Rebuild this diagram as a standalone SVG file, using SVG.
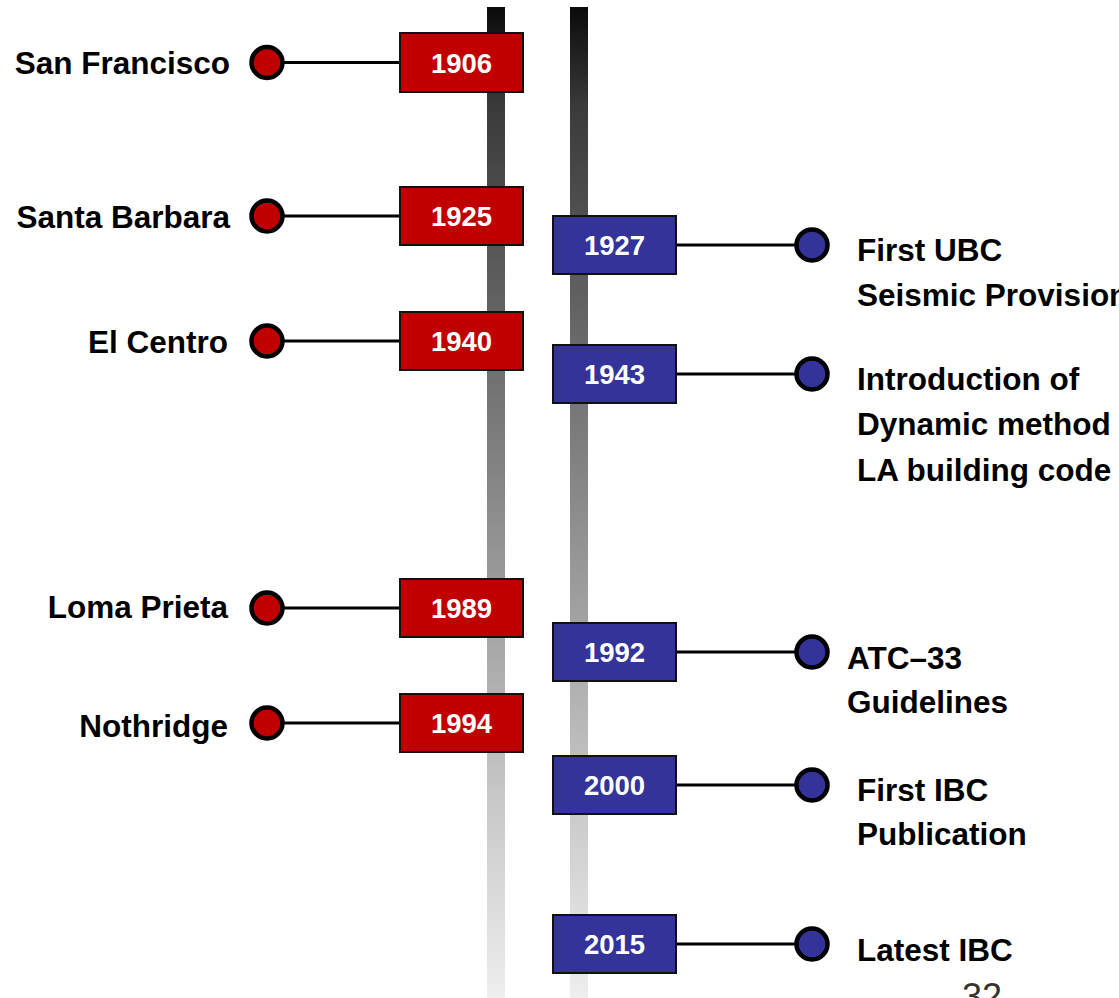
<svg xmlns="http://www.w3.org/2000/svg" width="1119" height="998" viewBox="0 0 1119 998">
  <defs>
    <linearGradient id="barGrad" x1="0" y1="7" x2="0" y2="998" gradientUnits="userSpaceOnUse">
      <stop offset="0" stop-color="#0a0a0a"/>
      <stop offset="0.1" stop-color="#3a3a3a"/>
      <stop offset="0.45" stop-color="#808080"/>
      <stop offset="0.8" stop-color="#c8c8c8"/>
      <stop offset="1" stop-color="#eeeeee"/>
    </linearGradient>
  </defs>
  <style>
    .bar { fill: url(#barGrad); }
    .conn { stroke: #000; stroke-width: 3; fill: none; }
    .redbox { fill: #C00000; stroke: #111; stroke-width: 2; }
    .bluebox { fill: #333399; stroke: #111; stroke-width: 2; }
    .reddot { fill: #C00000; stroke: #000; stroke-width: 4.5; }
    .bluedot { fill: #333399; stroke: #000; stroke-width: 4.5; }
    .year { font-family: "Liberation Sans", Arial, sans-serif; font-weight: bold; font-size: 27.5px; fill: #fff; text-anchor: middle; }
    .lbl { font-family: "Liberation Sans", Arial, sans-serif; font-weight: bold; font-size: 31.5px; fill: #000; }
    .left { text-anchor: end; }
    .pg { font-family: "Liberation Sans", Arial, sans-serif; font-size: 36px; fill: #333; }
  </style>
  <rect width="1119" height="998" fill="#fff"/>
  <g id="timeline-bars">
    <rect class="bar" x="487" y="7" width="18" height="991"/>
    <rect class="bar" x="570" y="7" width="18" height="991"/>
  </g>
  <g id="connectors">
    <line class="conn" x1="284" y1="62.5" x2="400" y2="62.5"/>
    <line class="conn" x1="284" y1="216" x2="400" y2="216"/>
    <line class="conn" x1="284" y1="341" x2="400" y2="341"/>
    <line class="conn" x1="284" y1="608" x2="400" y2="608"/>
    <line class="conn" x1="284" y1="723" x2="400" y2="723"/>
    <line class="conn" x1="676" y1="245" x2="796" y2="245"/>
    <line class="conn" x1="676" y1="374" x2="796" y2="374"/>
    <line class="conn" x1="676" y1="652" x2="796" y2="652"/>
    <line class="conn" x1="676" y1="785" x2="796" y2="785"/>
    <line class="conn" x1="676" y1="944" x2="796" y2="944"/>
  </g>
  <g id="e1906">
    <circle class="reddot" cx="267" cy="62.5" r="15.5"/>
    <text class="lbl left" x="230" y="74">San Francisco</text>
    <rect class="redbox" x="400" y="33" width="123" height="59"/>
    <text class="year" x="461.5" y="72.5">1906</text>
  </g>
  <g id="e1925">
    <circle class="reddot" cx="267" cy="216" r="15.5"/>
    <text class="lbl left" x="230" y="227.5">Santa Barbara</text>
    <rect class="redbox" x="400" y="187" width="123" height="58"/>
    <text class="year" x="461.5" y="226">1925</text>
  </g>
  <g id="e1940">
    <circle class="reddot" cx="267" cy="341" r="15.5"/>
    <text class="lbl left" x="228" y="352.5">El Centro</text>
    <rect class="redbox" x="400" y="312" width="123" height="58"/>
    <text class="year" x="461.5" y="351">1940</text>
  </g>
  <g id="e1989">
    <circle class="reddot" cx="267" cy="608" r="15.5"/>
    <text class="lbl left" x="228" y="617.5">Loma Prieta</text>
    <rect class="redbox" x="400" y="579" width="123" height="58"/>
    <text class="year" x="461.5" y="618">1989</text>
  </g>
  <g id="e1994">
    <circle class="reddot" cx="267" cy="723" r="15.5"/>
    <text class="lbl left" x="228" y="736.5">Nothridge</text>
    <rect class="redbox" x="400" y="694" width="123" height="58"/>
    <text class="year" x="461.5" y="733">1994</text>
  </g>
  <g id="e1927">
    <rect class="bluebox" x="553" y="216" width="123" height="58"/>
    <text class="year" x="614.5" y="255">1927</text>
    <circle class="bluedot" cx="812" cy="245" r="15.5"/>
    <text class="lbl" x="857" y="260.5">First UBC</text>
    <text class="lbl" x="857" y="306">Seismic Provisions</text>
  </g>
  <g id="e1943">
    <rect class="bluebox" x="553" y="345" width="123" height="58"/>
    <text class="year" x="614.5" y="384">1943</text>
    <circle class="bluedot" cx="812" cy="374" r="15.5"/>
    <text class="lbl" x="857" y="389.5">Introduction of</text>
    <text class="lbl" x="857" y="435">Dynamic method</text>
    <text class="lbl" x="857" y="480.5">LA building code</text>
  </g>
  <g id="e1992">
    <rect class="bluebox" x="553" y="623" width="123" height="58"/>
    <text class="year" x="614.5" y="662">1992</text>
    <circle class="bluedot" cx="812" cy="652" r="15.5"/>
    <text class="lbl" x="847" y="668.5">ATC–33</text>
    <text class="lbl" x="847" y="712.5">Guidelines</text>
  </g>
  <g id="e2000">
    <rect class="bluebox" x="553" y="756" width="123" height="58"/>
    <text class="year" x="614.5" y="795">2000</text>
    <circle class="bluedot" cx="812" cy="785" r="15.5"/>
    <text class="lbl" x="857" y="800.5">First IBC</text>
    <text class="lbl" x="857" y="844.5">Publication</text>
  </g>
  <g id="e2015">
    <rect class="bluebox" x="553" y="915" width="123" height="58"/>
    <text class="year" x="614.5" y="954">2015</text>
    <circle class="bluedot" cx="812" cy="944" r="15.5"/>
    <text class="lbl" x="857" y="960.5">Latest IBC</text>
  </g>
  <text class="pg" x="962" y="1009">32</text>
</svg>
